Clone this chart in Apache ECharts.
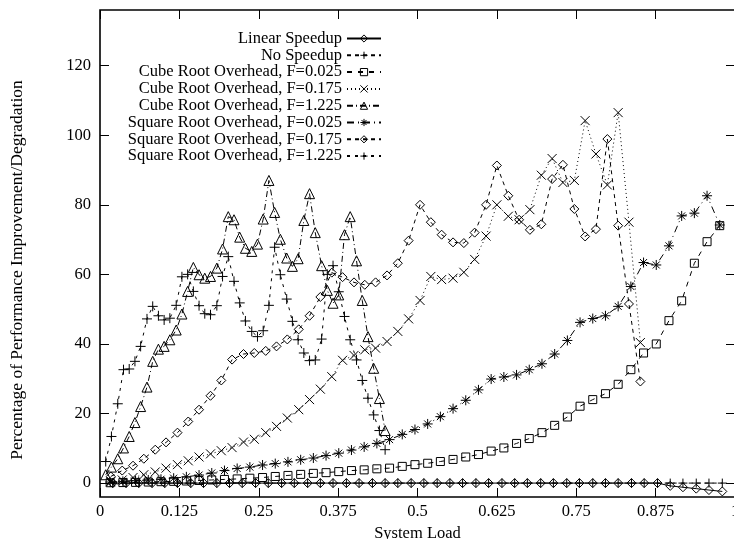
<!DOCTYPE html>
<html>
<head>
<meta charset="utf-8">
<script src="https://cdn.jsdelivr.net/npm/echarts@6/dist/echarts.min.js"></script>
<style>
html,body{margin:0;padding:0;background:#fff;}
#chart{width:734px;height:539px;}
</style>
</head>
<body>
<div id="chart"></div>
<script>
// ---- data ----
const xTickValues = [0, 0.125, 0.25, 0.375, 0.5, 0.625, 0.75, 0.875, 1];
const yTickValues = [0, 20, 40, 60, 80, 100, 120];

const seriesNames = [
  'Linear Speedup',
  'No Speedup',
  'Cube Root Overhead, F=0.025',
  'Cube Root Overhead, F=0.175',
  'Cube Root Overhead, F=1.225',
  'Square Root Overhead, F=0.025',
  'Square Root Overhead, F=0.175',
  'Square Root Overhead, F=1.225'
];
const xAxisTitle = 'System Load';
const yAxisTitle = 'Percentage of Performance Improvement/Degradation';

// x positions (system load) of the points
const loadLinear = [0.020,0.041,0.061,0.082,0.102,0.122,0.143,0.163,0.184,0.204,0.224,0.245,0.265,0.286,0.306,0.327,0.347,0.367,0.388,0.408,0.429,0.449,0.469,0.490,0.510,0.531,0.551,0.571,0.592,0.612,0.633,0.653,0.673,0.694,0.714,0.735,0.755,0.776,0.796,0.816,0.837,0.857,0.878,0.898,0.918,0.939,0.959,0.980];
const loadCoarse = [0.016,0.036,0.056,0.076,0.096,0.116,0.136,0.156,0.176,0.196,0.216,0.236,0.256,0.276,0.296,0.316,0.336,0.356,0.376,0.396,0.416,0.436,0.456,0.476,0.496,0.516,0.536,0.556,0.576,0.596,0.616,0.636,0.656,0.676,0.696,0.716,0.736,0.756,0.776,0.796,0.816,0.836,0.856,0.876,0.896,0.916,0.936,0.956,0.976];
const loadMid = [0.017,0.035,0.052,0.069,0.087,0.104,0.122,0.139,0.156,0.174,0.191,0.208,0.226,0.243,0.261,0.278,0.295,0.313,0.330,0.347,0.365,0.382,0.400,0.417,0.434,0.452,0.469,0.486,0.504,0.521,0.538,0.556,0.573,0.590,0.608,0.625,0.643,0.660,0.677,0.695,0.712,0.729,0.747,0.764,0.781,0.799,0.816,0.833,0.851];
const loadFine = [0.009,0.018,0.028,0.037,0.046,0.055,0.064,0.074,0.083,0.092,0.101,0.110,0.120,0.129,0.138,0.147,0.156,0.165,0.174,0.184,0.193,0.202,0.211,0.220,0.229,0.239,0.248,0.257,0.266,0.275,0.284,0.294,0.303,0.312,0.321,0.330,0.339,0.349,0.358,0.367,0.376,0.385,0.394,0.404,0.413,0.422,0.431,0.440,0.449];

// series values (percent)
const linearSpeedup = [0,0,0,0,0,0,0,0,0,0,0,0,0,0,0,0,0,0,0,0,0,0,0,0,0,0,0,0,0,0,0,0,0,0,0,0,0,0,0,0,0,0,0,-0.8,-1.2,-1.6,-2.0,-2.4];
const noSpeedup = [0,0,0,0,0,0,0,0,0,0,0,0,0,0,0,0,0,0,0,0,0,0,0,0,0,0,0,0,0,0,0,0,0,0,0,0,0,0,0,0,0,0,0,0,0,0,0,0];
const cubeRootF0025 = [0.1,0.15,0.2,0.3,0.4,0.5,0.6,0.75,0.9,1.05,1.2,1.4,1.6,1.9,2.2,2.5,2.8,3.0,3.3,3.6,3.8,4.1,4.3,4.8,5.3,5.7,6.2,6.8,7.5,8.2,9.2,10.1,11.4,12.8,14.5,16.6,19.0,22.1,24.0,25.7,28.4,32.6,37.4,40.0,46.7,52.4,63.2,69.4,74.0];
const cubeRootF0175 = [0.4,0.9,1.6,2.4,3.2,4.3,5.3,6.4,7.5,8.4,9.3,10.2,11.8,12.6,14.5,16.3,18.7,21.1,24.0,27.0,30.6,35.3,36.7,38.3,38.8,40.7,43.6,47.2,52.5,59.4,58.5,58.9,60.6,64.3,71.0,80.0,76.7,75.7,78.6,88.5,93.3,86.4,87.0,104.2,94.6,85.7,106.5,75.0,40.4];
const cubeRootF1225 = [2.4,4.6,7.0,10.1,13.4,17.4,22.0,27.6,35.0,38.5,39.3,41.2,44.0,48.6,55.1,62.0,59.9,58.9,59.4,61.8,67.3,76.6,75.7,70.7,67.5,66.6,68.7,75.9,87.0,77.8,70.1,64.7,62.3,64.5,75.5,83.2,72.0,62.5,55.4,51.7,54.1,71.4,76.6,63.9,52.5,42.1,33.0,24.3,15.1];
const sqrtF0025 = [0.3,0.5,0.7,0.9,1.1,1.4,1.8,2.3,2.9,3.6,4.2,4.6,5.2,5.6,6.1,6.7,7.2,7.9,8.6,9.5,10.4,11.4,12.5,14.0,15.4,17.0,19.1,21.4,23.8,26.8,29.9,30.5,31.1,32.6,34.3,37.1,41.0,46.2,47.3,48.1,50.8,56.5,63.4,62.7,68.2,76.8,77.6,82.6,74.2];
const sqrtF0175 = [1.9,3.6,5.0,7.0,9.6,11.7,14.5,17.7,21.1,25.1,29.5,35.5,37.1,37.4,38.0,39.3,41.3,44.2,48.1,53.5,60.5,59.2,57.7,57.0,57.7,59.7,63.2,69.7,80.0,75.0,71.4,69.2,69.0,72.0,80.0,91.3,82.6,75.7,72.8,74.4,87.4,91.5,78.8,70.9,73.0,98.9,74.0,51.5,29.2];
const sqrtF1225 = [6.2,13.4,22.8,32.6,32.8,35.0,39.3,47.2,50.8,48.1,46.9,47.4,51.1,59.3,60.0,55.1,51.0,48.7,48.4,51.0,59.4,65.1,58.0,51.8,46.6,43.6,42.1,43.8,51.1,67.8,59.9,52.9,46.5,41.2,37.4,35.2,35.4,41.4,60.0,62.5,55.0,47.9,41.2,35.4,29.5,24.4,19.6,15.1,9.6];

// ---- presentation ----
const SYM = {
  plus: 'path://M0,5L10,5M5,0L5,10',
  cross: 'path://M0,0L10,10M10,0L0,10',
  star: 'path://M0,5L10,5M5,0L5,10M1.5,1.5L8.5,8.5M8.5,1.5L1.5,8.5'
};
const specs = [
  {x: loadLinear, y: linearSpeedup, symbol: 'diamond', size: 9, dash: 'solid'},
  {x: loadLinear, y: noSpeedup, symbol: SYM.plus, size: 9, dash: [4, 4]},
  {x: loadCoarse, y: cubeRootF0025, symbol: 'rect', size: 8, dash: [5, 6]},
  {x: loadMid, y: cubeRootF0175, symbol: SYM.cross, size: 9, dash: [1, 3]},
  {x: loadFine, y: cubeRootF1225, symbol: 'triangle', size: 10, dash: [6, 3, 1, 3]},
  {x: loadCoarse, y: sqrtF0025, symbol: SYM.star, size: 10, dash: [7, 4, 1, 4]},
  {x: loadMid, y: sqrtF0175, symbol: 'diamond', size: 9, dash: [4, 4]},
  {x: loadFine, y: sqrtF1225, symbol: SYM.plus, size: 10, dash: [3, 5]}
];

const FONT = 'Liberation Serif';
const series = specs.map((s, i) => ({
  name: seriesNames[i],
  type: 'line',
  data: s.x.map((x, j) => [x, s.y[j]]),
  symbol: s.symbol,
  symbolSize: s.size,
  showAllSymbol: true,
  itemStyle: {color: 'rgba(0,0,0,0)', borderColor: '#000', borderWidth: 1},
  lineStyle: {color: '#000', width: 1, type: s.dash},
  emphasis: {disabled: true},
  z: 2 + i
}));
// empty helper series so the mirror (top/right) axes are bound and draw their ticks
series.push({type: 'line', xAxisIndex: 1, yAxisIndex: 1, data: [], silent: true, symbol: 'none'});

const legends = seriesNames.map((n, i) => ({
  data: [n],
  orient: 'vertical',
  right: 352,
  top: 30 + i * 16.8,
  align: 'right',
  padding: 0,
  itemWidth: 34,
  itemHeight: 9,
  selectedMode: false,
  textStyle: {fontFamily: FONT, fontSize: 16.5, color: '#000'},
  itemStyle: {color: 'rgba(0,0,0,0)', borderColor: '#000', borderWidth: 1}
}));

const tickStyle = {show: true, inside: true, length: 9, lineStyle: {color: '#000', width: 1}};
const noLine = {show: false, onZero: false};

const option = {
  animation: false,
  backgroundColor: '#fff',
  textStyle: {fontFamily: FONT, color: '#000'},
  legend: legends,
  grid: {left: 100, top: 10, width: 635, height: 487, show: true, borderColor: '#000', borderWidth: 1.6, containLabel: false, outerBoundsMode: 'none'},
  graphic: [{
    type: 'text',
    x: 17, y: 270,
    rotation: Math.PI / 2,
    style: {text: yAxisTitle, fontFamily: FONT, fontSize: 17.5, fill: '#000', align: 'center', verticalAlign: 'middle'}
  }],
  xAxis: [
    {
      type: 'value', min: 0, max: 1, interval: 0.125, position: 'bottom',
      axisLine: noLine, splitLine: {show: false},
      axisTick: tickStyle,
      axisLabel: {color: '#000', fontFamily: FONT, fontSize: 16.5, margin: 6,
        formatter: v => String(+v.toFixed(3))},
      name: xAxisTitle, nameLocation: 'middle', nameGap: 24,
      nameTextStyle: {fontFamily: FONT, fontSize: 16.5, color: '#000'}
    },
    {
      type: 'value', min: 0, max: 1, interval: 0.125, position: 'top',
      axisLine: noLine, splitLine: {show: false},
      axisTick: tickStyle, axisLabel: {show: false}
    }
  ],
  yAxis: [
    {
      type: 'value', min: -4, max: 136, position: 'left',
      axisLine: noLine, splitLine: {show: false},
      axisTick: Object.assign({customValues: yTickValues}, tickStyle),
      axisLabel: {customValues: yTickValues, color: '#000', fontFamily: FONT, fontSize: 16.5, margin: 9}
    },
    {
      type: 'value', min: -4, max: 136, position: 'right',
      axisLine: noLine, splitLine: {show: false},
      axisTick: Object.assign({customValues: yTickValues}, tickStyle),
      axisLabel: {show: false}
    }
  ],
  series: series
};

const chart = echarts.init(document.getElementById('chart'), null, {renderer: 'canvas'});
chart.setOption(option);
</script>
</body>
</html>
